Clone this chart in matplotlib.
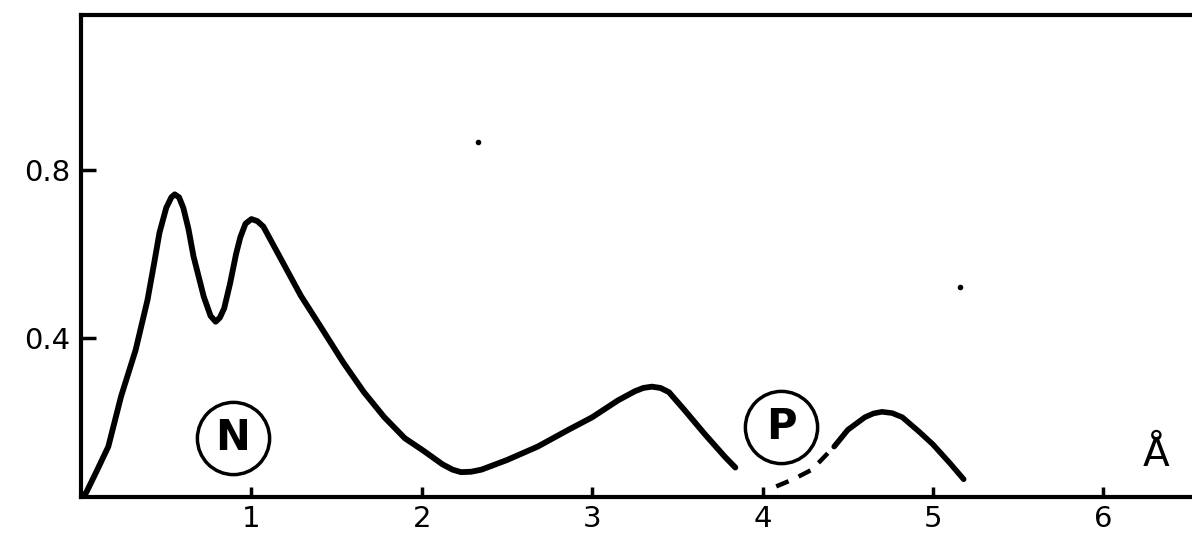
import numpy as np
import matplotlib
matplotlib.use('Agg')
import matplotlib.pyplot as plt

# curve (x in Angstrom)
x_main = [0.0, 0.03, 0.09, 0.16, 0.235, 0.32, 0.39, 0.43, 0.46, 0.50, 0.53, 0.55, 0.575,
          0.60, 0.63, 0.66, 0.72, 0.76, 0.79, 0.815, 0.84, 0.875, 0.91, 0.935, 0.965,
          1.0, 1.035, 1.07, 1.13, 1.21, 1.29, 1.40, 1.54, 1.66, 1.78, 1.90, 2.01,
          2.12, 2.18, 2.23, 2.29, 2.35, 2.50, 2.68, 2.86, 3.00, 3.15, 3.25, 3.30,
          3.35, 3.40, 3.45, 3.54, 3.66, 3.78, 3.84]
y_main = [0.02, 0.03, 0.08, 0.14, 0.26, 0.37, 0.49, 0.58, 0.65, 0.71, 0.735, 0.742, 0.735,
          0.71, 0.66, 0.594, 0.498, 0.452, 0.438, 0.448, 0.47, 0.53, 0.60, 0.64, 0.672,
          0.683, 0.678, 0.665, 0.62, 0.56, 0.50, 0.43, 0.34, 0.27, 0.21, 0.16, 0.13,
          0.098, 0.085, 0.079, 0.08, 0.085, 0.108, 0.14, 0.18, 0.21, 0.25, 0.272, 0.28,
          0.283, 0.28, 0.27, 0.228, 0.17, 0.115, 0.09]

x_tail = [4.08, 4.18, 4.29, 4.42, 4.50, 4.60, 4.65, 4.70, 4.76, 4.82, 4.92, 5.00, 5.10, 5.18]
y_tail = [0.045, 0.062, 0.085, 0.14, 0.18, 0.21, 0.219, 0.223, 0.22, 0.21, 0.175, 0.145, 0.10, 0.062]

x_ticks = [1, 2, 3, 4, 5, 6]
y_ticks = [0.4, 0.8]
y_ticklabels = ['0.4', '0.8']

labels = ['N', 'P']
label_x = [0.89, 4.11]
label_y = [0.16, 0.187]

fig = plt.figure(figsize=(11.92, 5.36), dpi=100)
ax = fig.add_axes([0.068, 0.073, 0.932, 0.899])

ax.plot(x_main, y_main, color='black', lw=4.2, solid_capstyle='round',
        solid_joinstyle='round')
ax.plot(x_tail[:4], y_tail[:4], color='black', lw=3.2, ls=(0, (3, 2.5)))
ax.plot(x_tail[3:], y_tail[3:], color='black', lw=4.0, solid_capstyle='round',
        solid_joinstyle='round')

# circled labels
for lab, lx, ly in zip(labels, label_x, label_y):
    ax.plot(lx, ly, marker='o', markersize=52, markerfacecolor='none',
            markeredgecolor='black', markeredgewidth=2.5)
    ax.text(lx, ly, lab, ha='center', va='center', fontsize=30,
            fontweight='bold', color='black')

ax.text(6.31, 0.12, 'Å', ha='center', va='center', fontsize=28, color='black')

# stray specks on the original
ax.plot([2.33, 5.16], [0.867, 0.52], 'o', color='black', markersize=3)

ax.set_xlim(0, 6.52)
ax.set_ylim(0.02, 1.17)
ax.set_xticks(x_ticks)
ax.set_yticks(y_ticks)
ax.set_yticklabels(y_ticklabels)

ax.spines['right'].set_visible(False)
for s in ['left', 'top', 'bottom']:
    ax.spines[s].set_linewidth(3)
ax.tick_params(axis='both', direction='in', width=2.5, labelsize=21)
ax.tick_params(axis='y', length=11, pad=8)
ax.tick_params(axis='x', length=7, pad=6)

plt.savefig('out.png', dpi=100)
